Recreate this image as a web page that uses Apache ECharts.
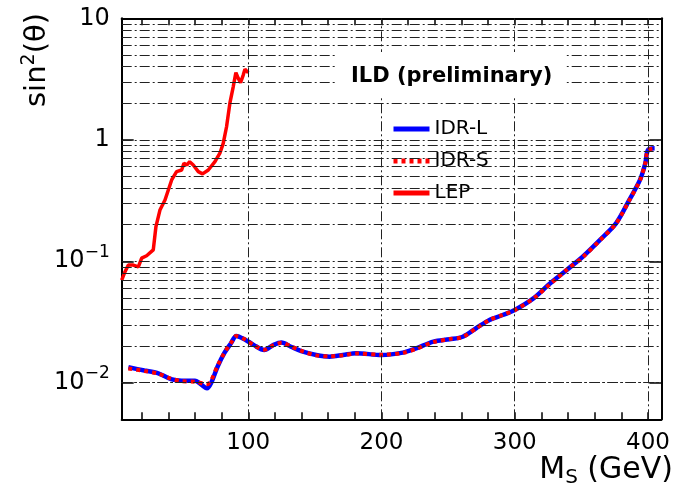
<!DOCTYPE html>
<html><head><meta charset="utf-8">
<script src="https://cdn.jsdelivr.net/npm/echarts@6/dist/echarts.min.js"></script>
<style>html,body{margin:0;padding:0;background:#fff}#c{width:678px;height:497px}</style>
</head><body><div id="c"></div><script>
// ---- data ----
const xTickValues = [20,40,60,80,100,120,140,160,180,200,220,240,260,280,300,320,340,360,380,400];
const xLabelValues = [100,200,300,400];
const xGridValues = [100,200,300,400];
const yGridValues = [0.006,0.007,0.008,0.009,
  0.01,0.02,0.03,0.04,0.05,0.06,0.07,0.08,0.09,
  0.1,0.2,0.3,0.4,0.5,0.6,0.7,0.8,0.9,
  1,2,3,4,5,6,7,8,9];
const idrX = [10,22,32,42,50,60,65,69,72,77,82,87,91,98,104,112,119,125,132,141,151,161,171,181,200,216,226,239,251,261,271,281,291,300,314,326,339,351,364,376,386,394,398,400,405];
const idrL = [0.0134,0.0126,0.0120,0.0107,0.0104,0.0104,0.0096,0.0090,0.0099,0.0136,0.0175,0.0211,0.0243,0.0225,0.0205,0.0186,0.0205,0.0214,0.0198,0.0180,0.0169,0.0164,0.0169,0.0175,0.0169,0.0177,0.0192,0.0218,0.0228,0.0239,0.0281,0.0329,0.0361,0.0397,0.0495,0.065,0.0848,0.109,0.150,0.205,0.32,0.467,0.641,0.824,0.85];
const idrS = [0.0131,0.0125,0.0119,0.0108,0.0103,0.0102,0.0099,0.0097,0.0104,0.0138,0.0176,0.0212,0.0242,0.0226,0.0204,0.0187,0.0204,0.0213,0.0199,0.0181,0.0168,0.0165,0.0168,0.0174,0.0170,0.0176,0.0190,0.0216,0.0229,0.0238,0.0280,0.0328,0.0362,0.0396,0.0493,0.064,0.0850,0.108,0.149,0.204,0.318,0.465,0.640,0.820,0.85];
const lepX = [5,7.5,10,13.7,17.5,20,23.7,28.7,30.7,33.7,37.5,42.5,46.2,50,51.7,54,56,58.7,62.5,65.7,70,75,78.7,81.2,83.7,86.2,88.7,90.7,92.5,94.2,96.2,97.5,100];
const lepY = [0.070,0.082,0.093,0.093,0.090,0.106,0.111,0.124,0.193,0.264,0.319,0.467,0.547,0.564,0.641,0.62,0.66,0.62,0.547,0.524,0.564,0.66,0.775,0.935,1.28,2.0,2.73,3.57,3.2,2.95,3.41,3.8,3.57];
const legendNames = ['IDR-L','IDR-S','LEP'];
const titleText = 'ILD (preliminary)';

// ---- chart ----
const FONT = 'DejaVu Sans, sans-serif';
const zip = (xs, ys) => xs.map((x, i) => [x, ys[i]]);
const dashDot = [10, 3, 2, 3];
const chart = echarts.init(document.getElementById('c'), null, {renderer: 'canvas'});

function yLabel(v) {
  const e = Math.round(Math.log10(v));
  if (e === 0) return '{b|1}';
  if (e === 1) return '{b|10}';
  return '{b|10}{s|\u2212' + (-e) + '}';
}
const yRich = {
  b: {fontSize: 24, fontFamily: FONT, color: '#000'},
  s: {fontSize: 17, fontFamily: FONT, color: '#000', padding: [0, 0, 18, 0]}
};
const axisCommon = {
  axisLine: {show: true, lineStyle: {color: '#000', width: 2}},
  splitLine: {show: false}
};

const option = {
  animation: false,
  backgroundColor: '#fff',
  grid: {left: 121.7, top: 18.3, right: 16.7, bottom: 77.7, containLabel: false},
  title: {
    text: titleText, left: 337, top: 52, padding: [14, 14, 9, 14],
    backgroundColor: '#fff',
    textStyle: {fontFamily: FONT, fontSize: 21, fontWeight: 'bold', color: '#000'}
  },
  legend: {
    data: legendNames, orient: 'vertical', left: 381, top: 108,
    padding: [11, 62, 9, 10], backgroundColor: '#fff',
    itemWidth: 36, itemHeight: 18, itemGap: 12,
    itemStyle: {opacity: 0},
    lineStyle: {width: 5},
    textStyle: {fontFamily: FONT, fontSize: 20, color: '#000'}
  },
  xAxis: [
    Object.assign({}, axisCommon, {
      type: 'value', min: 5, max: 410, position: 'bottom',
      axisTick: {show: true, inside: true, length: 7, customValues: xTickValues, lineStyle: {color: '#000', width: 1.5}},
      axisLabel: {show: true, customValues: xLabelValues, fontSize: 23, fontFamily: FONT, color: '#000', margin: 12}
    }),
    Object.assign({}, axisCommon, {
      type: 'value', min: 5, max: 410, position: 'top',
      axisTick: {show: true, inside: true, length: 7, customValues: xTickValues, lineStyle: {color: '#000', width: 1.5}},
      axisLabel: {show: false}
    })
  ],
  yAxis: [
    Object.assign({}, axisCommon, {
      type: 'log', logBase: 10, min: 0.005, max: 10, position: 'left',
      axisTick: {show: true, inside: true, length: 12, lineStyle: {color: '#000', width: 1.5}},
      axisLabel: {show: true, showMinLabel: false, margin: 12, formatter: yLabel, rich: yRich}
    }),
    Object.assign({}, axisCommon, {
      type: 'log', logBase: 10, min: 0.005, max: 10, position: 'right',
      axisTick: {show: true, inside: true, length: 12, lineStyle: {color: '#000', width: 1.5}},
      axisLabel: {show: false}
    })
  ],
  graphic: [
    {
      type: 'text', x: 37, y: 60, rotation: Math.PI / 2,
      style: {
        text: '{a|sin}{p|2}{a|(\u03b8)}', textAlign: 'center', textVerticalAlign: 'middle',
        rich: {
          a: {fontSize: 29, fontFamily: FONT, fill: '#000', color: '#000'},
          p: {fontSize: 19, fontFamily: FONT, fill: '#000', color: '#000', padding: [0, 0, 16, 0]}
        }
      }
    },
    {
      type: 'text', x: 673, y: 470,
      style: {
        text: '{a|M}{s|S}{a| (GeV)}', textAlign: 'right', textVerticalAlign: 'middle',
        rich: {
          a: {fontSize: 30, fontFamily: FONT, fill: '#000', color: '#000'},
          s: {fontSize: 20, fontFamily: FONT, fill: '#000', color: '#000', padding: [16, 0, 0, 0]}
        }
      }
    }
  ],
  series: [
    {
      name: 'grid', type: 'line', data: [], z: 1, silent: true,
      markLine: {
        silent: true, symbol: ['none', 'none'], label: {show: false},
        lineStyle: {color: '#222', width: 1, type: dashDot},
        data: yGridValues.map(v => ({yAxis: v})).concat(xGridValues.map(v => ({xAxis: v})))
      }
    },
    {
      name: 'IDR-L', type: 'line', z: 3, data: zip(idrX, idrL), symbol: 'none', smooth: 0.3,
      lineStyle: {color: '#0000ff', width: 4.5}, itemStyle: {color: '#0000ff'}
    },
    {
      name: 'IDR-S', type: 'line', z: 4, data: zip(idrX, idrS), symbol: 'none', smooth: 0.3,
      lineStyle: {color: '#ff0000', width: 4, type: [4, 4]}, itemStyle: {color: '#ff0000'}
    },
    {
      name: 'LEP', type: 'line', z: 4, data: zip(lepX, lepY), symbol: 'none',
      lineStyle: {color: '#ff0000', width: 3.5}, itemStyle: {color: '#ff0000'}
    }
  ]
};
chart.setOption(option);
</script></body></html>
